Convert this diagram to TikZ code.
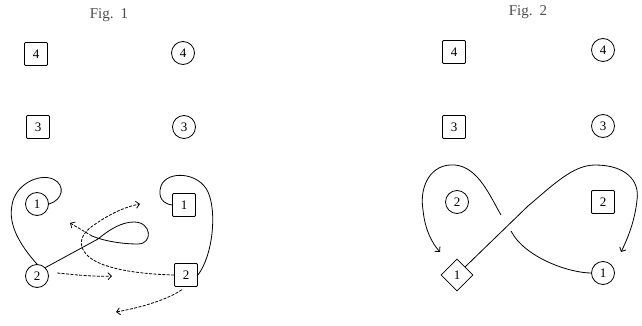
\documentclass[tikz,border=0pt]{standalone}
\usepackage{fontspec}
\setmainfont{Liberation Serif}
\usetikzlibrary{arrows.meta,shapes.geometric}
\begin{document}
\begin{tikzpicture}[x=1pt,y=-1pt,
 sq/.style={draw, line width=0.9pt, rounded corners=1pt, minimum size=23pt, inner sep=0pt, font=\fontsize{13}{13}\selectfont},
 cir/.style={draw, circle, line width=0.8pt, minimum size=23pt, inner sep=0pt, font=\fontsize{13}{13}\selectfont},
 dia/.style={draw, diamond, aspect=1.05, line width=0.8pt, minimum size=32pt, inner sep=0pt, font=\fontsize{13}{13}\selectfont},
 link/.style={line width=0.8pt},
 dsh/.style={link, dash pattern=on 3pt off 1.4pt},
 tip/.style={-{Straight Barb[length=3.5pt,width=7pt]}},
 lbl/.style={font=\fontsize{15}{15}\selectfont, text=black!70}
]
\useasboundingbox (0,0) rectangle (642,326);

% ---------- Fig. 1 ----------
\node[lbl] (f1) at (109,15) {Fig.\hspace{7pt}1};
\node[sq]  (s4a) at (36,54)   {4};
\node[cir] (c4a) at (183,53)  {4};
\node[sq]  (s3a) at (38,127)  {3};
\node[cir] (c3a) at (184,127) {3};
\node[cir] (c1a) at (37,204)  {1};
\node[sq]  (s1a) at (184,205) {1};
\node[cir] (c2a) at (37,276)  {2};
\node[sq]  (s2a) at (186,275) {2};

% loop from circle 2 around to circle 1
\draw[link] (c2a.north) .. controls (20,245) and (8,225) .. (12,205)
  .. controls (15,185) and (38,173) .. (53,179)
  .. controls (66,185) and (63,200) .. (c1a.east);
% loop from square 2 around to square 1
\draw[link] (s2a.east) .. controls (213,255) and (217,212) .. (208,192)
  .. controls (199,172) and (167,170) .. (161,186)
  .. controls (157,198) and (164,204) .. (s1a.west);

% line from circle 2 into the small loop
\coordinate (la) at (92,236);
\coordinate (lb) at (70,223);
\draw[link] (c2a.north east) -- (98,239)
  .. controls (110,229) and (122,222) .. (134,222)
  .. controls (152,222) and (153,244) .. (138,244)
  .. controls (122,244) and (104,241) .. (la);
\draw[dsh,tip] (la) -- (lb);

% hook from square 2 up to an arrow
\coordinate (ha) at (140,204);
\draw[dsh,tip] (s2a.west) .. controls (135,274) and (98,268) .. (86,254)
  .. controls (78,245) and (80,234) .. (94,225)
  .. controls (108,215) and (124,207) .. (ha);

% short arrow from circle 2
\coordinate (ca) at (112,276);
\draw[dsh,tip,shorten <=9pt] (c2a.18) .. controls (70,274) and (90,277) .. (ca);

% arrow from below square 2
\coordinate (ba) at (116,312);
\draw[dsh,tip,shorten <=5pt] (s2a.south) .. controls (165,301) and (138,308) .. (ba);

% ---------- Fig. 2 ----------
\node[lbl] (f2) at (528,12) {Fig.\hspace{7pt}2};
\node[sq]  (s4b) at (454,52)  {4};
\node[cir] (c4b) at (603,50)  {4};
\node[sq]  (s3b) at (454,127) {3};
\node[cir] (c3b) at (603,126) {3};
\node[cir] (c2b) at (457,202) {2};
\node[sq]  (s2b) at (603,202) {2};
\node[dia] (d1b) at (457,275) {1};
\node[cir] (c1b) at (603,273) {1};

% curve from circle 1 (passes under)
\coordinate (ga) at (511,231);
\coordinate (gb) at (501,215);
\coordinate (ea) at (440,252);
\draw[link] (c1b.west) .. controls (570,273) and (525,258) .. (ga);
\draw[link,tip] (gb) .. controls (490,196) and (478,167) .. (455,165)
  .. controls (431,163) and (419,186) .. (423,210)
  .. controls (425,230) and (432,243) .. (ea);

% curve from diamond 1 (passes over)
\coordinate (eb) at (621,252);
\draw[link,tip] (d1b.north east) -- (528,206)
  .. controls (553,185) and (573,165) .. (595,165)
  .. controls (625,165) and (640,180) .. (637,200)
  .. controls (635,220) and (628,238) .. (eb);
\end{tikzpicture}
\end{document}
